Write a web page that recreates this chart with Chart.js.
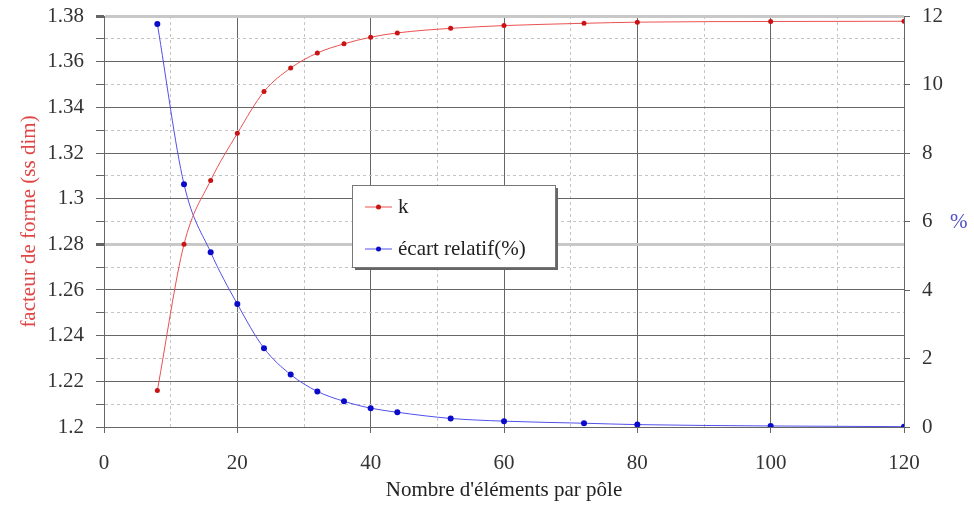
<!DOCTYPE html>
<html>
<head>
<meta charset="utf-8">
<script src="https://cdn.jsdelivr.net/npm/chart.js@4/dist/chart.umd.min.js"></script>
<style>
  html, body { margin: 0; padding: 0; background: #fff; }
  #wrap { width: 974px; height: 507px; }
</style>
</head>
<body>
<div id="wrap"><canvas id="facteur"></canvas></div>
<script>
// nombre d'éléments par pôle
const nbElements = [8, 12, 16, 20, 24, 28, 32, 36, 40, 44, 52, 60, 72, 80, 100, 120]
// facteur de forme k (ss dim)
const facteurK = [1.216, 1.280, 1.308, 1.3286, 1.3469, 1.3572, 1.3638, 1.3678, 1.3707, 1.3726, 1.3746, 1.3758, 1.3768, 1.3773, 1.3776, 1.3777]
// écart relatif en %
const ecartRelatif = [11.77, 7.09, 5.10, 3.59, 2.30, 1.53, 1.04, 0.75, 0.55, 0.43, 0.25, 0.17, 0.11, 0.07, 0.03, 0.01]

const serif = "'Liberation Serif', 'Times New Roman', serif"
const major = '#666'
const minor = '#c4c4c4'

const isMajorK = v => Math.round(v * 100) % 2 === 0
const isMajorX = v => Math.round(v) % 20 === 0

// legend drawn inside the plot, like the original
const boxLegend = {
    id: 'boxLegend',
    afterDraw(chart) {
        const ctx = chart.ctx
        const x = 352, y = 185, w = 203, h = 82
        ctx.save()
        ctx.fillStyle = '#666'
        ctx.fillRect(x + 3, y + 3, w, h)
        ctx.fillStyle = '#fff'
        ctx.fillRect(x, y, w, h)
        ctx.strokeStyle = '#777'
        ctx.lineWidth = 1
        ctx.strokeRect(x + 0.5, y + 0.5, w, h)
        ctx.font = '21px ' + serif
        ctx.textBaseline = 'middle'
        chart.data.datasets.forEach((ds, i) => {
            const ly = y + 22 + i * 42
            ctx.strokeStyle = ds.borderColor
            ctx.beginPath()
            ctx.moveTo(x + 13, ly)
            ctx.lineTo(x + 40, ly)
            ctx.stroke()
            ctx.fillStyle = ds.pointBackgroundColor
            ctx.beginPath()
            ctx.arc(x + 26.5, ly, 2.5, 0, Math.PI * 2)
            ctx.fill()
            ctx.fillStyle = '#222'
            ctx.fillText(ds.label, x + 46, ly)
        })
        // unité de l'axe de droite
        ctx.fillStyle = '#5050c8'
        ctx.fillText('%', 950, 222)
        ctx.restore()
    }
}

// fixed axis boxes so the plot area sits where it does in the original
const fitY = w => s => { s.width = w; s.paddingTop = 0; s.paddingBottom = 0 }

const facteurChart = document.getElementById('facteur')

new Chart(facteurChart, {
    type: 'line',
    data: {
        datasets: [{
            label: 'k',
            data: nbElements.map((n, i) => ({x: n, y: facteurK[i]})),
            yAxisID: 'y',
            borderColor: 'rgb(235, 80, 80)',
            borderWidth: 1,
            pointBackgroundColor: 'rgb(200, 20, 20)',
            pointBorderWidth: 0,
            pointRadius: 2.5,
            cubicInterpolationMode: 'monotone'
        }, {
            label: 'écart relatif(%)',
            data: nbElements.map((n, i) => ({x: n, y: ecartRelatif[i]})),
            yAxisID: 'y1',
            borderColor: 'rgb(80, 80, 235)',
            borderWidth: 1,
            pointBackgroundColor: 'rgb(10, 10, 200)',
            pointBorderWidth: 0,
            pointRadius: 3,
            cubicInterpolationMode: 'monotone'
        }]
    },
    options: {
        responsive: true,
        maintainAspectRatio: false,
        animation: false,
        layout: { padding: { top: 16 } },
        plugins: {
            legend: { display: false },
            tooltip: { enabled: false }
        },
        scales: {
            x: {
                type: 'linear',
                min: 0,
                max: 120,
                afterFit: s => { s.height = 80; s.paddingLeft = 0; s.paddingRight = 0 },
                ticks: {
                    stepSize: 10,
                    autoSkip: false,
                    maxRotation: 0,
                    padding: 18,
                    color: '#333',
                    font: { family: serif, size: 21 },
                    callback: v => isMajorX(v) ? String(v) : ''
                },
                grid: {
                    color: c => isMajorX(c.tick.value) ? major : minor,
                    tickColor: c => isMajorX(c.tick.value) ? major : 'transparent',
                    tickLength: 6
                },
                border: { color: major, dash: c => (c.tick && !isMajorX(c.tick.value)) ? [3, 3] : [] },
                title: {
                    display: true,
                    text: "Nombre d'éléments par pôle",
                    color: '#222',
                    font: { family: serif, size: 21 },
                    padding: { top: 0 }
                }
            },
            y: {
                position: 'left',
                min: 1.2,
                max: 1.38,
                afterFit: fitY(104),
                ticks: {
                    stepSize: 0.01,
                    autoSkip: false,
                    padding: 12,
                    color: '#333',
                    font: { family: serif, size: 21 },
                    callback: v => isMajorK(v) ? String(Math.round(v * 100) / 100) : ''
                },
                grid: {
                    color: c => {
                        const r = Math.round(c.tick.value * 100)
                        if (r === 128 || r === 138) return '#c8c8c8'
                        return isMajorK(c.tick.value) ? major : minor
                    },
                    lineWidth: c => {
                        const r = Math.round(c.tick.value * 100)
                        return (r === 128 || r === 138) ? 3 : 1
                    },
                    tickColor: major,
                    tickLength: 8
                },
                border: { color: major, dash: c => (c.tick && !isMajorK(c.tick.value)) ? [3, 3] : [] },
                title: {
                    display: true,
                    text: 'facteur de forme (ss dim)',
                    color: 'rgb(225, 70, 70)',
                    font: { family: serif, size: 21 },
                    padding: { top: 17, bottom: 0 }
                }
            },
            y1: {
                position: 'right',
                min: 0,
                max: 12,
                afterFit: fitY(70),
                ticks: {
                    stepSize: 2,
                    padding: 12,
                    color: '#333',
                    font: { family: serif, size: 21 }
                },
                grid: {
                    drawOnChartArea: false,
                    tickColor: major,
                    tickLength: 6
                },
                border: { color: major }
            }
        }
    },
    plugins: [boxLegend]
})
</script>
</body>
</html>
